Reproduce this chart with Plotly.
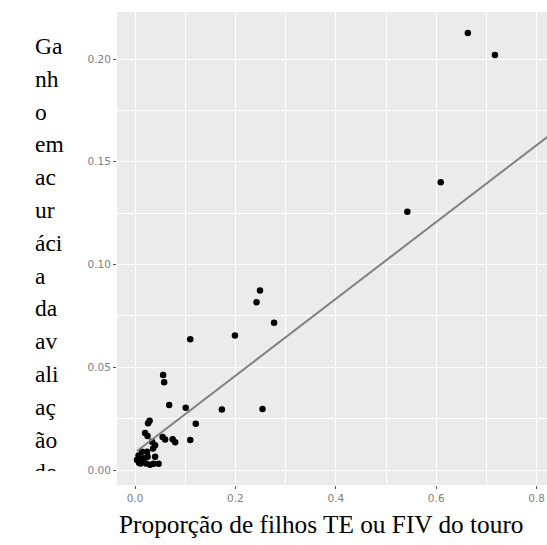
import plotly.graph_objects as go

# Data
prop_x = [0.663, 0.717, 0.609, 0.5425, 0.249, 0.242, 0.277, 0.199, 0.110, 0.056,
          0.058, 0.173, 0.254, 0.068, 0.101, 0.121, 0.110, 0.029, 0.026, 0.020,
          0.025, 0.055, 0.060, 0.075, 0.080, 0.034, 0.040, 0.036, 0.014, 0.024,
          0.007, 0.017, 0.025, 0.040, 0.004, 0.016, 0.011, 0.022, 0.037, 0.047,
          0.008, 0.030]
gain_y = [0.2127, 0.2020, 0.1400, 0.1257, 0.0873, 0.0816, 0.0717, 0.0654, 0.0636, 0.0462,
          0.0427, 0.0295, 0.0297, 0.0316, 0.0303, 0.0225, 0.0146, 0.0240, 0.0228, 0.0180,
          0.0165, 0.0160, 0.0148, 0.0150, 0.0135, 0.0138, 0.0120, 0.0105, 0.0089, 0.0089,
          0.0070, 0.0057, 0.0065, 0.0065, 0.0049, 0.0050, 0.0032, 0.0032, 0.0030, 0.0030,
          0.0035, 0.0025]

line_intercept = 0.0085
line_slope = 0.187
line_x = [min(prop_x), 0.85]
line_y = [line_intercept + line_slope * v for v in line_x]

x_tickvals = [0.0, 0.2, 0.4, 0.6, 0.8]
y_tickvals = [0.00, 0.05, 0.10, 0.15, 0.20]

y_title_lines = ["Ga", "nh", "o", "em", "ac", "ur", "áci", "a", "da", "av", "ali", "aç", "ão", "do"]
x_title = "Proporção de filhos TE ou FIV do touro"

fig = go.Figure()
fig.add_trace(go.Scatter(x=prop_x, y=gain_y, mode="markers",
                         marker=dict(color="black", size=6.5), showlegend=False))
fig.add_trace(go.Scatter(x=line_x, y=line_y, mode="lines",
                         line=dict(color="#808080", width=2), showlegend=False))

W, H = 547, 545
ml, mt, mr, mb = 117, 12, 0, 60
PW, PH = W - ml - mr, H - mt - mb
tickfont = dict(family="DejaVu Sans", size=10.5, color="#808080")
fig.update_layout(
    width=W, height=H,
    margin=dict(l=ml, r=mr, t=mt, b=mb, autoexpand=False),
    paper_bgcolor="white", plot_bgcolor="#EBEBEB",
    xaxis=dict(range=[-0.0359, 0.8207], tickvals=x_tickvals, tickformat=".1f",
               automargin=False,
               showgrid=True, gridcolor="white", gridwidth=1.4, zeroline=False,
               minor=dict(dtick=0.1, showgrid=True, gridcolor="white", gridwidth=0.7),
               ticks="outside", ticklen=3, tickcolor="#555555", tickfont=tickfont),
    yaxis=dict(range=[-0.0073, 0.2229], tickvals=y_tickvals, tickformat=".2f",
               automargin=False,
               showgrid=True, gridcolor="white", gridwidth=1.4, zeroline=False,
               minor=dict(dtick=0.025, showgrid=True, gridcolor="white", gridwidth=0.7),
               ticks="outside", ticklen=3, tickcolor="#555555", tickfont=tickfont),
)

def py(px):
    return 1 - (px - mt) / PH

ann = []
y0_px, step = 46, 32.8
for i, t in enumerate(y_title_lines):
    ypx = y0_px + i * step
    a = dict(text=t, xref="paper", yref="paper",
             x=(33 - ml) / PW, xanchor="left",
             y=py(ypx), yanchor="middle",
             showarrow=False, align="left",
             font=dict(family="Liberation Serif", size=23.5, color="black"))
    if i == len(y_title_lines) - 1:
        a.update(height=12, valign="top", yanchor="top", borderpad=0, y=py(458))
    ann.append(a)

ann.append(dict(text=x_title, xref="paper", yref="paper",
                x=0, xanchor="left", y=py(524), yanchor="middle",
                showarrow=False,
                font=dict(family="Liberation Serif", size=25.3, color="black")))
fig.update_layout(annotations=ann)

fig.write_html("out.html", config={"displayModeBar": False},
               post_script="document.body.style.margin='0px';")
